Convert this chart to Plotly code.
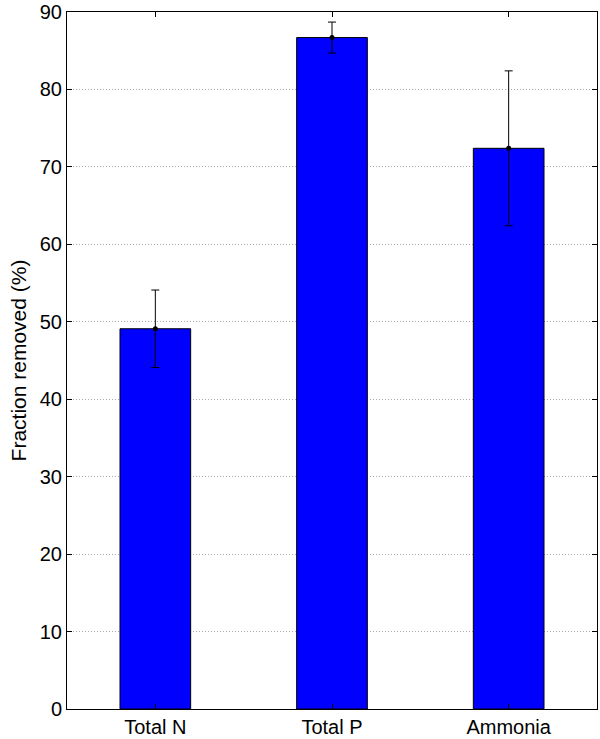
import plotly.graph_objects as go

categories = ["Total N", "Total P", "Ammonia"]
values = [49.1, 86.7, 72.4]
errors = [5.0, 2.0, 10.0]
y_ticks = [0, 10, 20, 30, 40, 50, 60, 70, 80, 90]

fig = go.Figure()
fig.add_trace(go.Bar(
    x=list(range(len(categories))), y=values, width=0.4,
    marker=dict(color="#0000ff", line=dict(color="black", width=1)),
    showlegend=False,
))
fig.add_trace(go.Scatter(
    x=list(range(len(categories))), y=values, mode="markers",
    marker=dict(color="black", size=5),
    error_y=dict(type="data", array=errors, color="black", thickness=1, width=4),
    showlegend=False,
))

font = dict(family="Liberation Sans, Arial, sans-serif", size=21, color="black")
fig.update_layout(
    width=600, height=739,
    margin=dict(l=67, r=3, t=12, b=30),
    paper_bgcolor="white", plot_bgcolor="white",
    font=font,
    xaxis=dict(
        range=[-0.5, 2.5], tickvals=list(range(len(categories))), ticktext=categories,
        showline=True, linecolor="black", linewidth=1, mirror="ticks",
        ticks="inside", ticklen=5, tickcolor="black", showgrid=False, zeroline=False,
        tickfont=dict(size=20), automargin=False,
    ),
    yaxis=dict(
        range=[0, 90], tickvals=y_ticks,
        showline=True, linecolor="black", linewidth=1, mirror="ticks",
        ticks="inside", ticklen=5, tickcolor="black",
        showgrid=True, gridcolor="#aaaaaa", griddash="1px,2px", gridwidth=1, zeroline=False,
        title=dict(text="Fraction removed (%)", font=dict(size=21), standoff=7),
        tickfont=dict(size=20), ticklabeloverflow="allow", automargin=False,
    ),
)
fig.write_html(
    "out.html",
    config={"displayModeBar": False},
    post_script="document.body.style.margin='0';document.body.style.overflow='hidden';",
)
